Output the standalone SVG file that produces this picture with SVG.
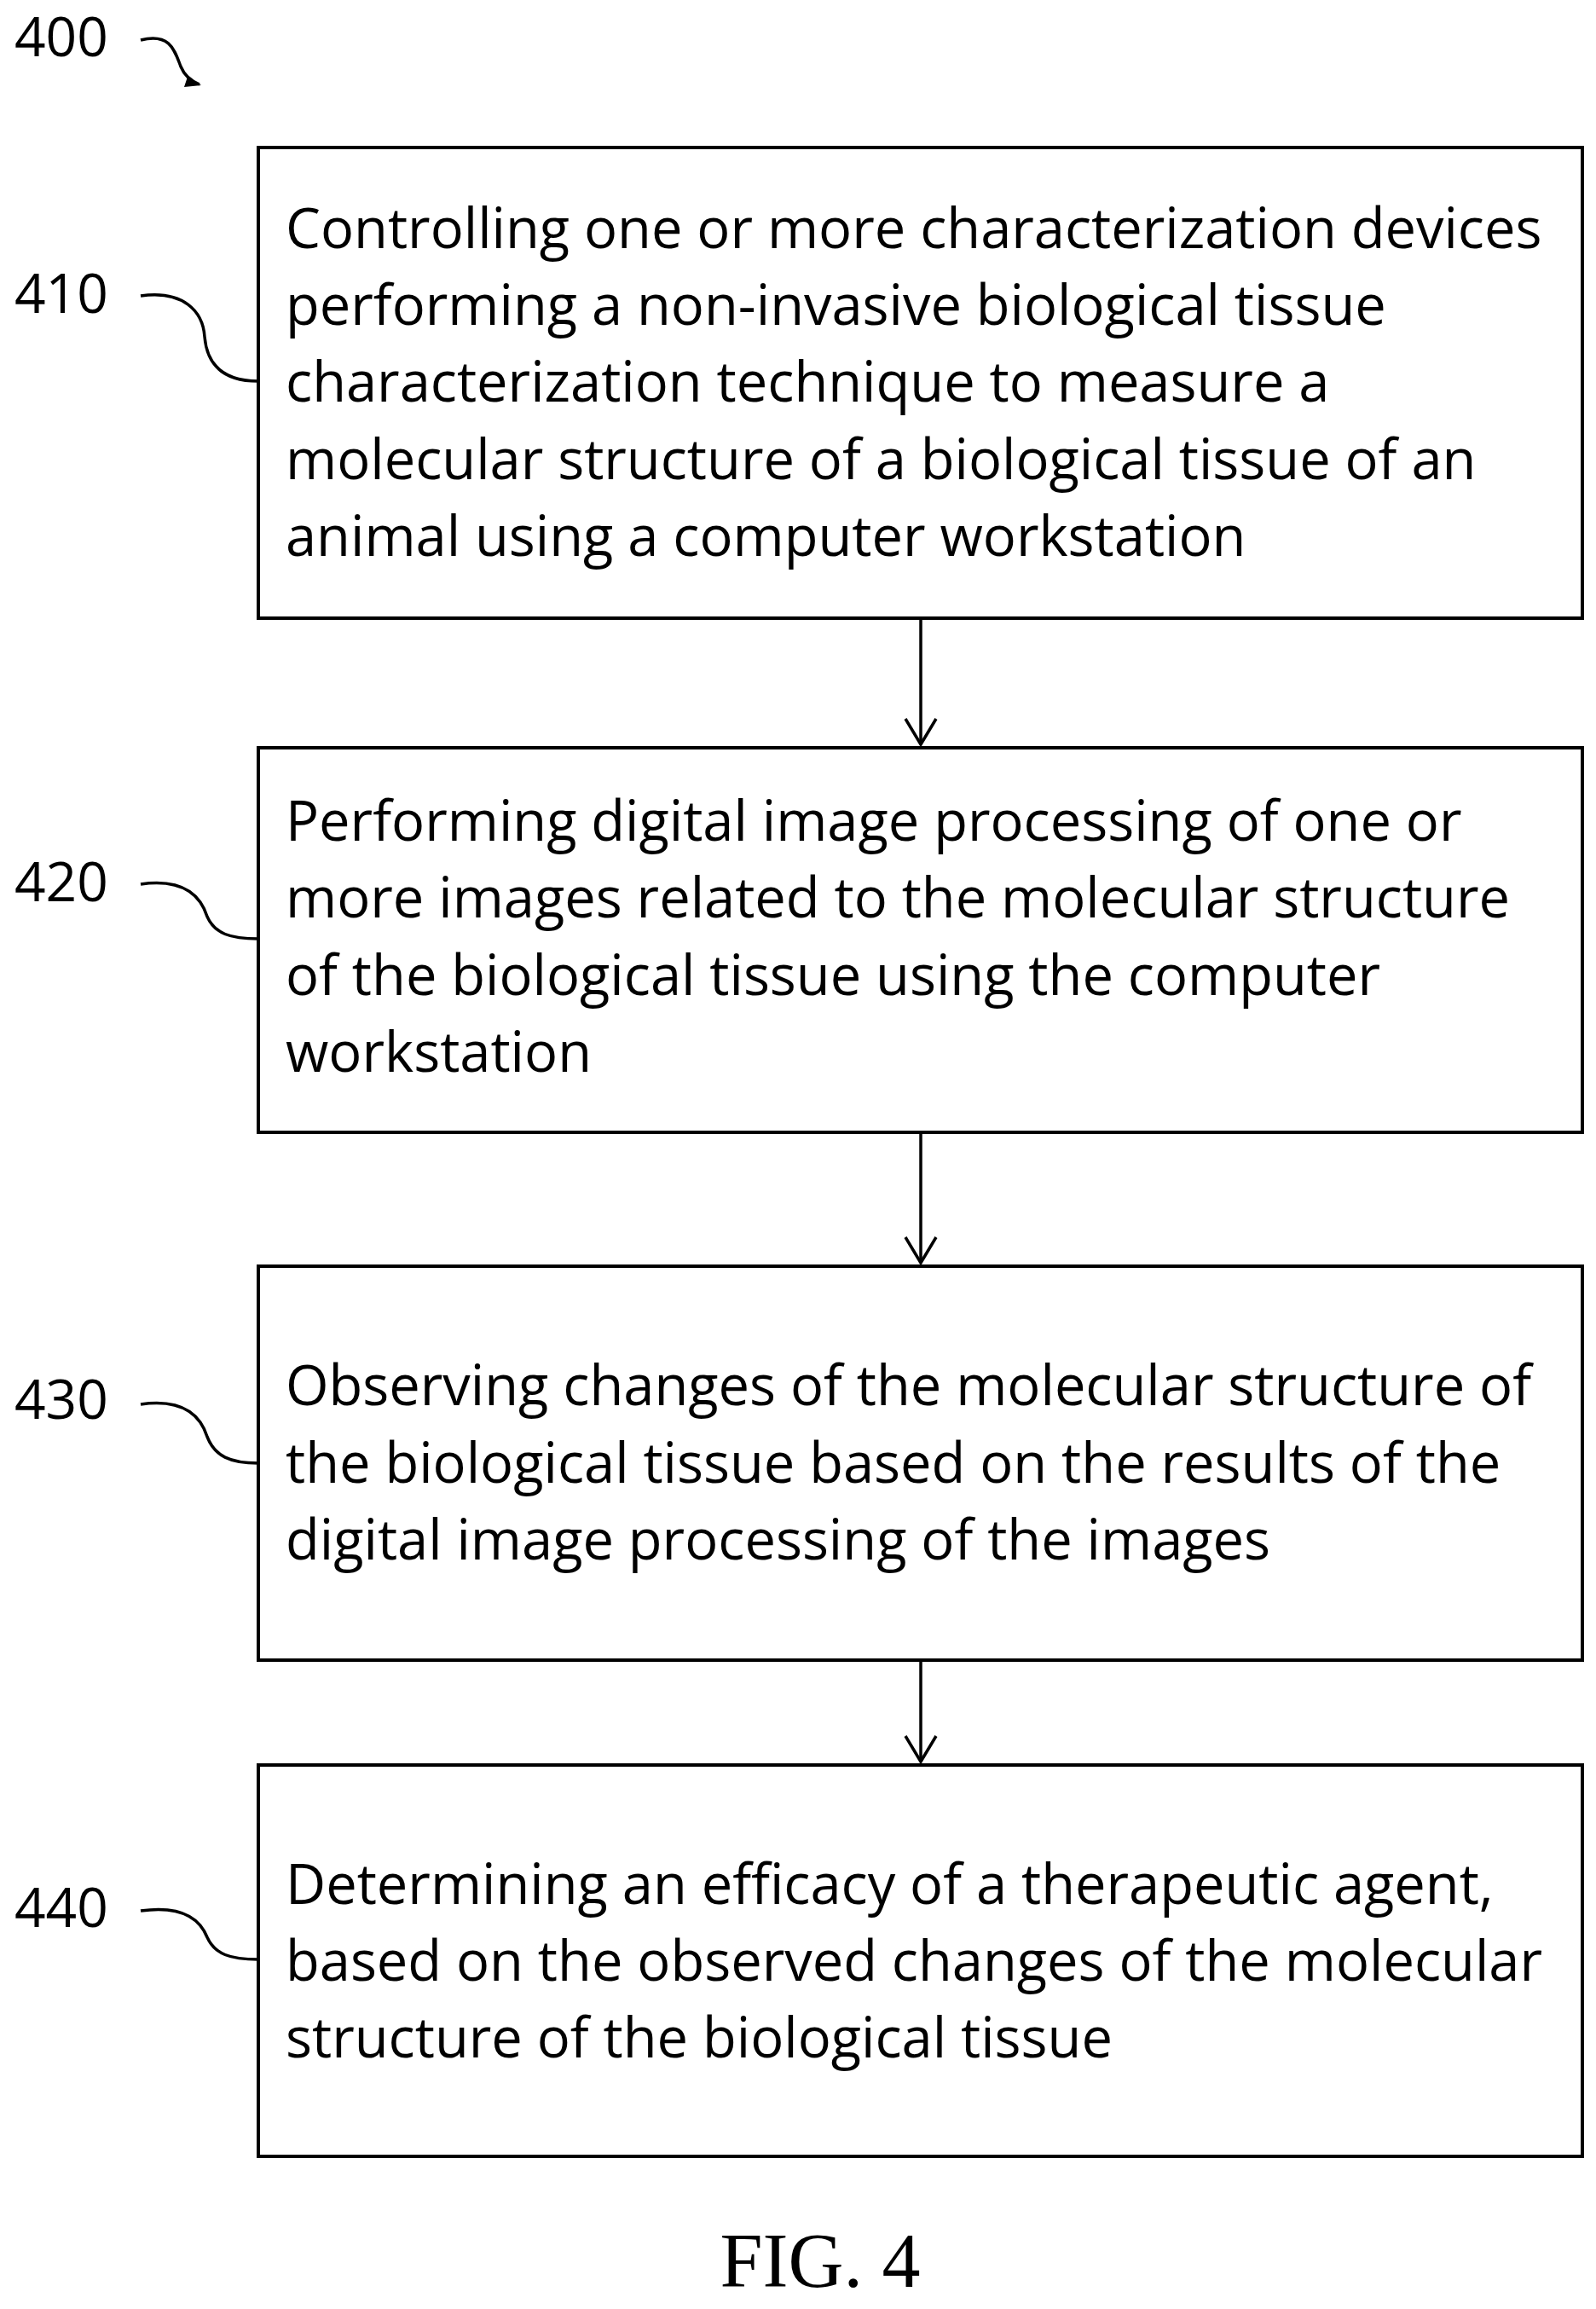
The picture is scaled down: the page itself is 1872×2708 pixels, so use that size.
<svg xmlns="http://www.w3.org/2000/svg" width="1872" height="2708" viewBox="0 0 1872 2708">
<style>
.b{fill:#fff;stroke:#000;stroke-width:4}
.t{font-family:"Open Sans",sans-serif;font-size:65px;fill:#000}
.l{font-family:"Open Sans",sans-serif;font-size:64px;fill:#000}
.c{fill:none;stroke:#000;stroke-width:3.5}
</style>
<defs>
<marker id="h" markerWidth="40" markerHeight="40" refX="20" refY="36" orient="0" markerUnits="userSpaceOnUse"><path d="M2,6 L20,36 L38,6" fill="none" stroke="#000" stroke-width="3.5"/></marker></defs>
<g id="labels">
<text class="l" x="17" y="66">400</text>
<text class="l" x="17" y="367">410</text>
<text class="l" x="17" y="1057">420</text>
<text class="l" x="17" y="1664">430</text>
<text class="l" x="17" y="2260">440</text>
<path class="c" d="M165,47 C200,38 205,60 212,78 C216,88 224,95 234,99"/>
<path d="M220,90 L236,100 L216,102 Z" fill="#000"/>
<path class="c" d="M165,347 C215,340 238,365 240,395 C243,430 265,447 303,447"/>
<path class="c" d="M165,1037 C215,1030 235,1050 243,1075 C252,1095 270,1101 303,1101"/>
<path class="c" d="M165,1647 C215,1640 235,1660 243,1685 C252,1708 270,1716 303,1716"/>
<path class="c" d="M165,2241 C215,2234 235,2252 243,2272 C252,2292 270,2298 303,2298"/>
</g>
<g id="n410"><rect class="b" x="303" y="173" width="1553" height="552"/>
<text class="t" x="335" y="291">Controlling one or more characterization devices</text>
<text class="t" x="335" y="381">performing a non-invasive biological tissue</text>
<text class="t" x="335" y="471">characterization technique to measure a</text>
<text class="t" x="335" y="562">molecular structure of a biological tissue of an</text>
<text class="t" x="335" y="652">animal using a computer workstation</text></g>
<g id="n420"><rect class="b" x="303" y="877" width="1553" height="451"/>
<text class="t" x="335" y="986">Performing digital image processing of one or</text>
<text class="t" x="335" y="1076">more images related to the molecular structure</text>
<text class="t" x="335" y="1167">of the biological tissue using the computer</text>
<text class="t" x="335" y="1257">workstation</text></g>
<g id="n430"><rect class="b" x="303" y="1485" width="1553" height="462"/>
<text class="t" x="335" y="1648">Observing changes of the molecular structure of</text>
<text class="t" x="335" y="1739">the biological tissue based on the results of the</text>
<text class="t" x="335" y="1829">digital image processing of the images</text></g>
<g id="n440"><rect class="b" x="303" y="2070" width="1553" height="459"/>
<text class="t" x="335" y="2233">Determining an efficacy of a therapeutic agent,</text>
<text class="t" x="335" y="2323">based on the observed changes of the molecular</text>
<text class="t" x="335" y="2413">structure of the biological tissue</text></g>
<g id="connectors">
<line class="c" x1="1080" y1="725" x2="1080" y2="873" marker-end="url(#h)"/>
<line class="c" x1="1080" y1="1328" x2="1080" y2="1481" marker-end="url(#h)"/>
<line class="c" x1="1080" y1="1947" x2="1080" y2="2066" marker-end="url(#h)"/>
</g>
<text x="962" y="2682" text-anchor="middle" style="font-family:'Liberation Serif',serif;font-size:90px">FIG. 4</text>
</svg>
